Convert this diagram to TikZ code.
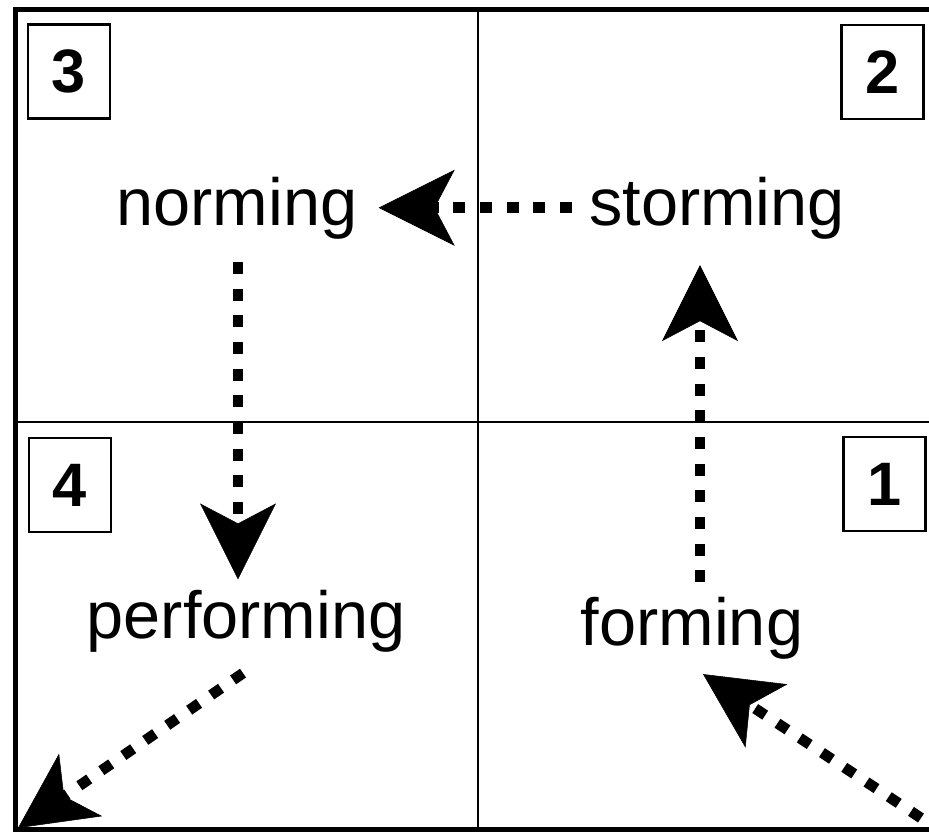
\documentclass[tikz,border=0pt]{standalone}
\usepackage{fontspec}
\setmainfont{Liberation Sans}
\usetikzlibrary{arrows.meta}

\tikzset{
  stage/.style={font=\fontsize{50}{60}\selectfont, inner sep=0pt, anchor=base},
  numbox/.style={draw, line width=2pt, minimum width=61.5pt, minimum height=70.5pt, inner sep=0pt, font=\fontsize{46}{54}\selectfont\bfseries},
  flow/.style={line width=8pt, dash pattern=on 9pt off 11pt,
    -{Stealth[length=57pt,width=57pt,inset=15pt,line width=0.4pt]}},
}

\begin{document}
\begin{tikzpicture}[x=0.75pt,y=0.75pt,yscale=-1,xscale=1]
\useasboundingbox (0,0) rectangle (929,833);

%Frame
\draw [line width=3.75pt] (929,9.5) -- (15,9.5) -- (15,829.5) -- (929,829.5) ;
%Quarter lines
\draw [line width=1.5pt] (478,9.5) -- (478,829.5) ;
\draw [line width=1.5pt] (15,422) -- (929,422) ;

% Number boxes
\node [numbox] (box3) at (69,71.5) {3};
\node [numbox] (box2) at (882.5,72) {2};
\node [numbox] (box4) at (70,485) {4};
\node [numbox] (box1) at (884.5,484) {1};

% Stage labels
\node [stage] (norming) at (237,225) {norming};
\node [stage] (storming) at (717,225) {storming};
\node [stage] (performing) at (246,638) {performing};
\node [stage] (forming) at (692,645) {forming};

% Corners
\coordinate (bl corner) at (18,828);
\coordinate (br corner) at (921,818);

%Arrows
\draw [flow, shorten <=12.75pt, shorten >=15.75pt] (storming.west) -- (norming.east) ;
\draw [flow, shorten <=17.25pt, shorten >=7.5pt] ([xshift=0.75pt]norming.south) -- ([xshift=0.75pt]norming.south |- performing.north) ;
\draw [flow, shorten <=10.5pt, shorten >=19.5pt] ([xshift=6pt]forming.north) -- ([xshift=6pt]forming.north |- storming.south) ;
\draw [flow] ([shift={(-3,21)}]performing.south) -- (bl corner) ;
\draw [flow] (br corner) -- ([shift={(11,15)}]forming.south) ;

\end{tikzpicture}
\end{document}
